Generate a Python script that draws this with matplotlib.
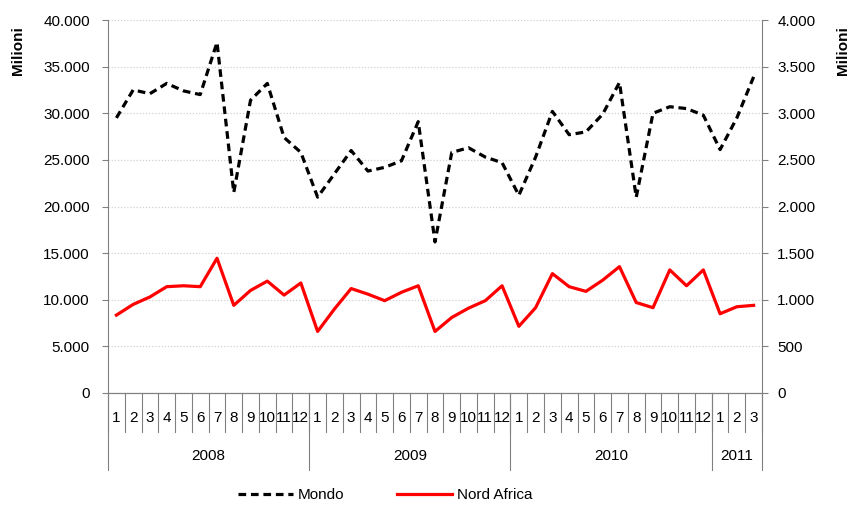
import matplotlib.pyplot as plt
from matplotlib.ticker import FuncFormatter, MultipleLocator
import matplotlib.transforms as mtransforms

plt.rcParams['font.family'] = ['Liberation Sans', 'DejaVu Sans']

# data (Milioni)
years = ["2008", "2009", "2010", "2011"]
months_per_year = [12, 12, 12, 3]
mondo = [29500, 32500, 32100, 33200, 32400, 32000, 37600, 21500, 31400, 33200, 27400, 25800,
         21000, 23500, 26000, 23800, 24200, 24900, 29100, 16200, 25800, 26300, 25300, 24700,
         21200, 25300, 30200, 27700, 28000, 29900, 33300, 21000, 30000, 30700, 30500, 29800,
         26100, 29500, 33900]
nord_africa = [835, 950, 1030, 1140, 1150, 1140, 1445, 940, 1100, 1200, 1050, 1180,
               660, 900, 1120, 1060, 990, 1080, 1150, 660, 810, 910, 990, 1150,
               715, 915, 1280, 1140, 1090, 1210, 1355, 970, 915, 1320, 1150, 1320,
               850, 925, 940]

month_labels = []
for n in months_per_year:
    month_labels += [str(m) for m in range(1, n + 1)]
x = list(range(len(month_labels)))

def fmt(v, pos):
    return f"{int(round(v)):,}".replace(",", ".")

grey = "#808080"
fig = plt.figure(figsize=(8.51, 5.05), dpi=100)
ax = fig.add_axes([108 / 851, 1 - 393 / 505, 654 / 851, 373 / 505])
ax2 = ax.twinx()

ax.plot(x, mondo, color="black", lw=2.3, linestyle=(0, (2.4, 1.5)), label="Mondo")
ax2.plot(x, nord_africa, color="#ff0000", lw=2.3, label="Nord Africa")

ax.set_xlim(-0.5, len(x) - 0.5)
ax.set_ylim(0, 40000)
ax2.set_ylim(0, 4000)
ax.yaxis.set_major_locator(MultipleLocator(5000))
ax2.yaxis.set_major_locator(MultipleLocator(500))
ax.yaxis.set_major_formatter(FuncFormatter(fmt))
ax2.yaxis.set_major_formatter(FuncFormatter(fmt))
ax.grid(axis="y", color="#d0d0d0", linestyle=(0, (1, 1.5)), lw=0.9)
ax.set_axisbelow(True)

for a in (ax, ax2):
    a.spines["top"].set_visible(False)
    for s in ("left", "right", "bottom"):
        a.spines[s].set_color(grey)
    a.tick_params(axis="y", colors=grey, labelcolor="black", labelsize=11, length=4)
ax.tick_params(axis="y", pad=9)
ax2.tick_params(axis="y", pad=7)
ax.spines["right"].set_visible(False)
ax2.spines["left"].set_visible(False)

# month labels and category separators
ax.set_xticks(x)
ax.set_xticklabels([])
ax.tick_params(axis="x", length=0)
trans = mtransforms.blended_transform_factory(ax.transData, ax.transAxes)
for i, lab in enumerate(month_labels):
    ax.text(i, -0.068, lab, transform=trans, ha="center", va="center", fontsize=11)
for i in range(len(x) + 1):
    ax.plot([i - 0.5, i - 0.5], [0, -0.105], transform=trans, color=grey, lw=0.8, clip_on=False)

start = 0
for yr, n in zip(years, months_per_year):
    ax.plot([start - 0.5, start - 0.5], [0, -0.207], transform=trans, color=grey, lw=0.8, clip_on=False)
    ax.text(start + (n - 1) / 2, -0.168, yr, transform=trans, ha="center", va="center", fontsize=11)
    start += n
ax.plot([start - 0.5, start - 0.5], [0, -0.207], transform=trans, color=grey, lw=0.8, clip_on=False)

fig.text(18 / 851, 1 - 51 / 505, "Milioni", rotation=90, ha="center", va="center",
         fontsize=11, fontweight="bold")
fig.text(843 / 851, 1 - 51 / 505, "Milioni", rotation=90, ha="center", va="center",
         fontsize=11, fontweight="bold")

h1, l1 = ax.get_legend_handles_labels()
h2, l2 = ax2.get_legend_handles_labels()
fig.legend(h1 + h2, l1 + l2, loc="center", bbox_to_anchor=(385 / 851, 1 - 495 / 505),
           ncol=2, frameon=False, fontsize=11, handlelength=3.6, columnspacing=3.5,
           handletextpad=0.3)

fig.savefig("out.png", dpi=100)
